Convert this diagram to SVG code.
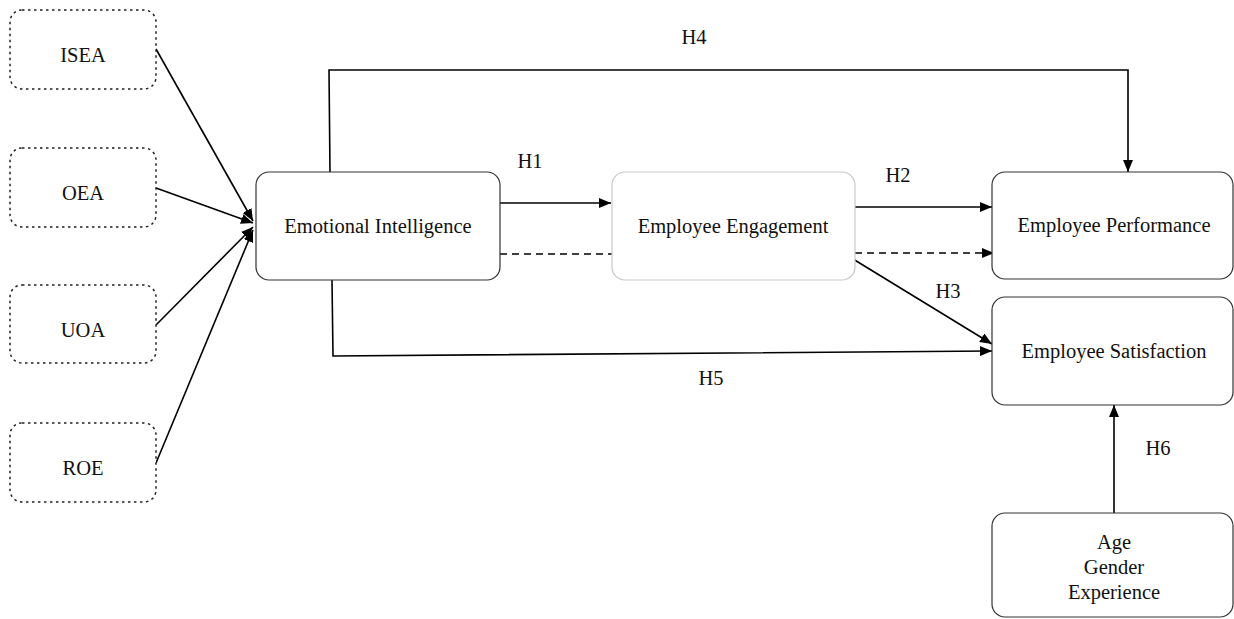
<svg xmlns="http://www.w3.org/2000/svg" width="1234" height="619" viewBox="0 0 1234 619">
<defs>
<marker id="ah" viewBox="0 0 12 10" refX="12" refY="5" markerWidth="12" markerHeight="10" markerUnits="userSpaceOnUse" orient="auto">
<path d="M0,0 L12,5 L0,10 Z" fill="#000"/>
</marker>
<style>
text{font-family:"Liberation Serif","Times New Roman",serif;font-size:20.5px;fill:#111;text-anchor:middle}
.dot{fill:#fff;stroke:#222;stroke-width:1.5;stroke-dasharray:2.5,3.5}
.box{fill:#fff;stroke:#333;stroke-width:1.2}
.lbox{fill:#fff;stroke:#c8c8c8;stroke-width:1.2}
.c{fill:none;stroke:#000;stroke-width:1.6}
.d{fill:none;stroke:#000;stroke-width:1.6;stroke-dasharray:7,5}
</style>
</defs>
<rect width="1234" height="619" fill="#fff"/>
<g id="connectors">
<line class="c" x1="156" y1="49" x2="253" y2="221" marker-end="url(#ah)"/>
<line class="c" x1="156" y1="188" x2="253" y2="223" marker-end="url(#ah)"/>
<line class="c" x1="156" y1="325" x2="253" y2="227" marker-end="url(#ah)"/>
<line class="c" x1="156" y1="463" x2="253" y2="230" marker-end="url(#ah)"/>
<line class="c" x1="500" y1="203" x2="611" y2="203" marker-end="url(#ah)"/>
<line class="d" x1="500" y1="254" x2="612" y2="254"/>
<line class="c" x1="855" y1="207" x2="992" y2="207" marker-end="url(#ah)"/>
<line class="d" x1="855" y1="253" x2="994" y2="253" marker-end="url(#ah)"/>
<line class="c" x1="853" y1="259" x2="992" y2="344" marker-end="url(#ah)"/>
<polyline class="c" points="330,172 329,70 1128,70 1128,172" marker-end="url(#ah)"/>
<polyline class="c" points="332,280 333,356 992,351" marker-end="url(#ah)"/>
<line class="c" x1="1114" y1="513" x2="1114" y2="405" marker-end="url(#ah)"/>
<text x="530" y="168">H1</text>
<text x="898" y="182">H2</text>
<text x="948" y="298">H3</text>
<text x="694" y="44">H4</text>
<text x="711" y="385">H5</text>
<text x="1158" y="455">H6</text>
</g>
<g id="isea"><rect class="dot" x="10" y="10" width="146" height="79" rx="12"/><text x="83" y="62">ISEA</text></g>
<g id="oea"><rect class="dot" x="10" y="148" width="146" height="79" rx="12"/><text x="83" y="200">OEA</text></g>
<g id="uoa"><rect class="dot" x="10" y="285" width="146" height="78" rx="12"/><text x="83" y="337">UOA</text></g>
<g id="roe"><rect class="dot" x="10" y="423" width="146" height="79" rx="12"/><text x="83" y="475">ROE</text></g>
<g id="ei"><rect class="box" x="256" y="172" width="244" height="108" rx="13"/><text x="378" y="233">Emotional Intelligence</text></g>
<g id="ee"><rect class="lbox" x="612" y="172" width="243" height="108" rx="13"/><text x="733" y="233">Employee Engagement</text></g>
<g id="ep"><rect class="box" x="992" y="172" width="241" height="107" rx="13"/><text x="1114" y="232">Employee Performance</text></g>
<g id="es"><rect class="box" x="992" y="297" width="241" height="108" rx="13"/><text x="1114" y="358">Employee Satisfaction</text></g>
<g id="demo"><rect class="box" x="992" y="513" width="241" height="104" rx="13"/><text x="1114" y="549">Age</text><text x="1114" y="574">Gender</text><text x="1114" y="599">Experience</text></g>
</svg>
